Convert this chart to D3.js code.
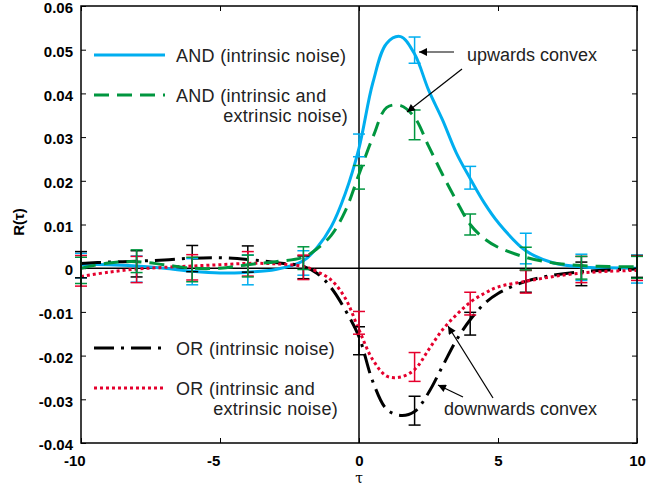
<!DOCTYPE html>
<html>
<head>
<meta charset="utf-8">
<script src="https://cdn.jsdelivr.net/npm/d3@7"></script>
<style>
  body { margin: 0; background: #fff; }
  svg { font-family: "Liberation Sans", Arial, sans-serif; }
</style>
</head>
<body>
<script>
// curve samples (tau grid shared by all four curves)
var curveTau = [-10, -9, -8, -7, -6, -5, -4, -3, -2, -1.5, -1, -0.5, 0, 0.5, 1, 1.5, 2, 2.5, 3, 3.5, 4, 4.5, 5, 6, 7, 8, 9, 10];
var andIntr = [0.0008, 0.0008, 0.0005, 0.0, -0.0007, -0.0011, -0.0009, -0.0003, 0.0017, 0.0048, 0.0095, 0.0170, 0.0275, 0.0425, 0.0515, 0.0530, 0.0490, 0.0408, 0.0340, 0.0264, 0.0205, 0.0150, 0.0105, 0.0040, 0.0012, 0.0003, 0.0001, 0.0];
var andBoth = [0.0, 0.0012, 0.0015, 0.0008, 0.0, 0.0, 0.0008, 0.0015, 0.0025, 0.0045, 0.0075, 0.0130, 0.0215, 0.0300, 0.0368, 0.0372, 0.0345, 0.0280, 0.0215, 0.0155, 0.0100, 0.0068, 0.0048, 0.0025, 0.0012, 0.0006, 0.0004, 0.0003];
var orIntr = [0.0011, 0.0014, 0.0016, 0.0019, 0.0023, 0.0024, 0.0020, 0.0013, 0.0004, -0.0012, -0.0045, -0.0095, -0.0157, -0.0260, -0.0323, -0.0337, -0.0328, -0.0285, -0.0225, -0.0165, -0.0118, -0.0082, -0.0058, -0.0030, -0.0016, -0.0008, -0.0004, -0.0002];
var orBoth = [-0.0019, -0.0009, -0.0002, 0.0002, 0.0005, 0.0008, 0.0011, 0.0010, 0.0004, -0.0008, -0.0027, -0.0068, -0.0141, -0.0210, -0.0247, -0.0249, -0.0232, -0.0187, -0.0141, -0.0107, -0.0078, -0.0058, -0.0043, -0.0030, -0.0019, -0.0011, -0.0007, -0.0005];

// error bars: centre and half width at each sample
var errTau = [-10, -8, -6, -4, -2, 0, 2, 4, 6, 8, 10];
var andIntrMid = [0.0006, -0.0002, -0.0008, -0.0004, 0.0012, 0.0281, 0.0499, 0.0207, 0.0045, 0.0002, -0.0002];
var andIntrErr = [0.0028, 0.0030, 0.0030, 0.0034, 0.0028, 0.0026, 0.0030, 0.0026, 0.0035, 0.0030, 0.0032];
var andBothMid = [-0.0005, 0.0016, -0.0003, 0.0005, 0.0023, 0.0208, 0.0328, 0.0100, 0.0022, 0.0001, 0.0002];
var andBothErr = [0.0030, 0.0026, 0.0028, 0.0025, 0.0026, 0.0027, 0.0034, 0.0024, 0.0026, 0.0026, 0.0025];
var orIntrMid = [0.0008, 0.0010, 0.0022, 0.0021, 0.0002, -0.0166, -0.0326, -0.0127, -0.0030, -0.0013, 0.0004];
var orIntrErr = [0.0030, 0.0030, 0.0030, 0.0030, 0.0026, 0.0032, 0.0033, 0.0026, 0.0025, 0.0027, 0.0025];
var orBothMid = [-0.0006, -0.0003, 0.0002, 0.0010, 0.0002, -0.0125, -0.0226, -0.0081, -0.0031, -0.0003, 0.0];
var orBothErr = [0.0035, 0.0030, 0.0029, 0.0028, 0.0028, 0.0026, 0.0033, 0.0026, 0.0026, 0.0030, 0.0028];

var xTicks = [-10, -5, 0, 5, 10];
var yTicks = [-0.04, -0.03, -0.02, -0.01, 0, 0.01, 0.02, 0.03, 0.04, 0.05, 0.06];

var margin = {top: 6, right: 9, bottom: 48, left: 81},
    width = 646 - margin.left - margin.right,
    height = 491 - margin.top - margin.bottom;

var svg = d3.select("body").append("svg")
    .attr("width", 646)
    .attr("height", 491);

var defs = svg.append("defs");
defs.append("marker")
    .attr("id", "head")
    .attr("viewBox", "0 0 10 10")
    .attr("refX", 10).attr("refY", 5)
    .attr("markerWidth", 11).attr("markerHeight", 8)
    .attr("markerUnits", "userSpaceOnUse")
    .attr("orient", "auto")
  .append("path")
    .attr("d", "M0,0L10,5L0,10z")
    .attr("fill", "#000");

var g = svg.append("g")
    .attr("transform", "translate(" + margin.left + "," + margin.top + ")");

var x = d3.scaleLinear().domain([-10, 10]).range([0, width]);
var y = d3.scaleLinear().domain([-0.04, 0.06]).range([height, 0]);

function fmtY(d) { return d === 0 ? "0" : d3.format(".2f")(d).replace("\u2212", "-"); }
function fmtX(d) { return String(d); }

// axes, ticks pointing inwards
var gx = g.append("g")
    .attr("transform", "translate(0," + height + ")")
    .call(d3.axisBottom(x).tickValues(xTicks).tickFormat(fmtX).tickSizeInner(-5).tickSizeOuter(0).tickPadding(12));
gx.selectAll("text").attr("dx", function(d) { return d < 0 ? "-0.45em" : 0; });
g.append("g")
    .call(d3.axisTop(x).tickValues(xTicks).tickFormat("").tickSizeInner(-5).tickSizeOuter(0));
var gy = g.append("g")
    .call(d3.axisLeft(y).tickValues(yTicks).tickFormat(fmtY).tickSizeInner(-5).tickSizeOuter(0).tickPadding(8));
gy.selectAll("text").attr("dy", "0.45em");
g.append("g")
    .attr("transform", "translate(" + width + ",0)")
    .call(d3.axisRight(y).tickValues(yTicks).tickFormat("").tickSizeInner(-5).tickSizeOuter(0));

g.selectAll(".tick text")
    .attr("fill", "#000")
    .style("font-size", "15px")
    .style("font-weight", "bold");
g.selectAll(".tick line").attr("stroke", "#000").attr("stroke-width", 1);
g.selectAll(".domain").remove();

// zero lines
g.append("line")
    .attr("x1", x(-10)).attr("x2", x(10))
    .attr("y1", y(0)).attr("y2", y(0))
    .attr("stroke", "#000").attr("stroke-width", 1.5);
g.append("line")
    .attr("x1", x(0)).attr("x2", x(0))
    .attr("y1", 0).attr("y2", height)
    .attr("stroke", "#000").attr("stroke-width", 1.5);

var series = [
  {vals: andIntr, mid: andIntrMid, err: andIntrErr, color: "#00aeef", dash: null},
  {vals: orIntr, mid: orIntrMid, err: orIntrErr, color: "#000000", dash: "20,7,3,7"},
  {vals: orBoth, mid: orBothMid, err: orBothErr, color: "#e5002d", dash: "3,3"},
  {vals: andBoth, mid: andBothMid, err: andBothErr, color: "#00963f", dash: "15,8"}
];

var line = d3.line()
    .x(function(d) { return x(d[0]); })
    .y(function(d) { return y(d[1]); })
    .curve(d3.curveCatmullRom.alpha(0.5));

series.forEach(function(s) {
  g.append("path")
      .datum(d3.zip(curveTau, s.vals))
      .attr("fill", "none")
      .attr("stroke", s.color)
      .attr("stroke-width", 3)
      .attr("stroke-dasharray", s.dash)
      .attr("d", line);
});

series.forEach(function(s) {
  var eb = g.append("g").attr("stroke", s.color).attr("stroke-width", 1.5);
  errTau.forEach(function(t, i) {
    var lo = y(s.mid[i] - s.err[i]), hi = y(s.mid[i] + s.err[i]), cx = x(t);
    eb.append("line").attr("x1", cx).attr("x2", cx).attr("y1", lo).attr("y2", hi);
    eb.append("line").attr("x1", cx - 6).attr("x2", cx + 6).attr("y1", lo).attr("y2", lo);
    eb.append("line").attr("x1", cx - 6).attr("x2", cx + 6).attr("y1", hi).attr("y2", hi);
  });
});

// frame
g.append("rect")
    .attr("width", width).attr("height", height)
    .attr("fill", "none").attr("stroke", "#000").attr("stroke-width", 1.5);

// legends
var legend = [
  {y: 55, s: series[0], lines: ["AND (intrinsic noise)"]},
  {y: 95, s: series[3], lines: ["AND (intrinsic and", "extrinsic noise)"]},
  {y: 348, s: series[1], lines: ["OR (intrinsic noise)"]},
  {y: 388, s: series[2], lines: ["OR (intrinsic and", "extrinsic noise)"]}
];
var ends = [347, 348, 338, 338];
legend.forEach(function(l, k) {
  svg.append("line")
      .attr("x1", 94).attr("x2", 165)
      .attr("y1", l.y).attr("y2", l.y)
      .attr("stroke", l.s.color).attr("stroke-width", 3)
      .attr("stroke-dasharray", l.s.dash);
  svg.append("text")
      .attr("x", 176).attr("y", l.y + 7)
      .attr("fill", "#222").style("font-size", "18px")
      .style("letter-spacing", "0.3px")
      .text(l.lines[0]);
  if (l.lines[1]) {
    svg.append("text")
        .attr("x", ends[k]).attr("y", l.y + 27)
        .attr("text-anchor", "end")
        .attr("fill", "#222").style("font-size", "18px")
        .style("letter-spacing", "0.3px")
        .text(l.lines[1]);
  }
});

// annotations
svg.append("text").attr("x", 467).attr("y", 61)
    .attr("fill", "#222").style("font-size", "18px").text("upwards convex");
svg.append("text").attr("x", 444).attr("y", 415)
    .attr("fill", "#222").style("font-size", "18px").text("downwards convex");

var arrows = [
  [[454, 52], [419, 52]],
  [[462, 69], [407, 112]],
  [[463, 397], [438, 385]],
  [[493, 398], [448, 326]]
];
arrows.forEach(function(a) {
  svg.append("line")
      .attr("x1", a[0][0]).attr("y1", a[0][1])
      .attr("x2", a[1][0]).attr("y2", a[1][1])
      .attr("stroke", "#000").attr("stroke-width", 1.2)
      .attr("marker-end", "url(#head)");
});

// axis titles
svg.append("text")
    .attr("x", 359).attr("y", 483)
    .attr("text-anchor", "middle")
    .style("font-family", "'DejaVu Serif', serif")
    .style("font-size", "14px")
    .text("\u03c4");
svg.append("text")
    .attr("transform", "translate(24,222) rotate(-90)")
    .attr("text-anchor", "middle")
    .style("font-size", "15px").style("font-weight", "bold")
    .text("R(\u03c4)");

window.addEventListener('unload', function () {
    document.documentElement.innerHTML = '';
});
</script>
</body>
</html>
